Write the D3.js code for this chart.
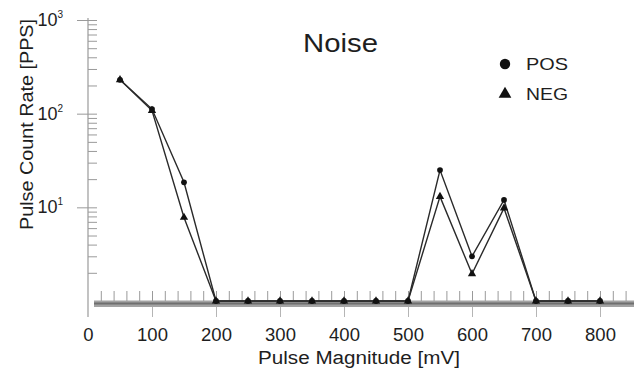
<!DOCTYPE html>
<html>
<head>
<meta charset="utf-8">
<script src="https://cdn.jsdelivr.net/npm/d3@7"></script>
<style>
  html, body { margin: 0; padding: 0; background: #fff; }
  svg { display: block; font-family: "Liberation Sans", Arial, sans-serif; }
</style>
</head>
<body>
<svg id="chart" width="635" height="370"></svg>
<script>
// Pulse magnitudes (mV) at which counts were taken
const magnitudes = [50, 100, 150, 200, 250, 300, 350, 400, 450, 500, 550, 600, 650, 700, 750, 800];
// Count rates in pulses per second; 0 means no pulses counted
const posRates = [230, 112, 18.5, 0, 0, 0, 0, 0, 0, 0, 25, 3.0, 12, 0, 0, 0];
const negRates = [230, 108, 7.8, 0, 0, 0, 0, 0, 0, 0, 13, 1.95, 9.8, 0, 0, 0];
const xTickLabels = [0, 100, 200, 300, 400, 500, 600, 700, 800];
const yDecades = [1, 2, 3];
const seriesNames = ["POS", "NEG"];

const svg = d3.select("#chart");
const ink = "#1e1e1e";
const axisGrey = "#9a9a9a";

const x = d3.scaleLinear().domain([0, 850]).range([88, 632]);
const y = d3.scaleLog().domain([1, 1000]).range([301, 20]);
const yFloor = 1;
const yv = v => y(Math.max(v, yFloor));

// horizontal base band along the floor of the log axis
svg.append("rect")
  .attr("x", 94).attr("y", y(1) - 0.5)
  .attr("width", x(850) - 94 + 2).attr("height", 6.5)
  .attr("fill", "#a3a3a3");
svg.append("line")
  .attr("x1", 94).attr("x2", x(850) + 2)
  .attr("y1", y(1) + 2.5).attr("y2", y(1) + 2.5)
  .attr("stroke", "#6f6f6f").attr("stroke-width", 2);

// x minor ticks above the band
const xMinor = svg.append("g")
  .attr("transform", `translate(0,${y(1)})`)
  .call(d3.axisTop(x).tickValues(d3.range(20, 850, 20)).tickSize(10).tickFormat(""));
xMinor.select(".domain").remove();
xMinor.selectAll("line").attr("stroke", axisGrey).attr("stroke-width", 1);

// x major ticks below the band with labels
const xMajor = svg.append("g")
  .attr("transform", `translate(0,${y(1) + 6})`)
  .call(d3.axisBottom(x).tickValues(xTickLabels).tickSize(10).tickFormat(d3.format("d")));
xMajor.select(".domain").remove();
xMajor.selectAll("line").attr("stroke", "#b5b5b5").attr("stroke-width", 1)
  .attr("opacity", d => d === 0 ? 0 : 1);
xMajor.selectAll("text")
  .attr("y", 34).attr("dy", 0)
  .attr("font-size", 18.5).attr("fill", ink)
  .attr("font-family", "Liberation Sans, Arial, sans-serif");

// y axis: line, minor ticks inside, major ticks crossing
const yMinorVals = [];
for (let e = 0; e < 3; e++) for (let m = 2; m <= 9; m++) yMinorVals.push(m * Math.pow(10, e));
const yIn = svg.append("g")
  .attr("transform", "translate(88,0)")
  .call(d3.axisRight(y).tickValues(yMinorVals.concat(yDecades.map(d => Math.pow(10, d)))).tickSize(9).tickFormat(""));
yIn.select(".domain").remove();
yIn.selectAll("line").attr("stroke", axisGrey);

const yOut = svg.append("g")
  .attr("transform", "translate(88,0)")
  .call(d3.axisLeft(y).tickValues(yDecades.map(d => Math.pow(10, d))).tickSize(11).tickFormat(""));
yOut.select(".domain").remove();
yOut.selectAll("line").attr("stroke", axisGrey);

svg.append("line")
  .attr("x1", 88).attr("x2", 88).attr("y1", 18).attr("y2", 317)
  .attr("stroke", axisGrey).attr("stroke-width", 1.2);

// decade labels with superscript exponents
yDecades.forEach(d => {
  const t = svg.append("text")
    .attr("x", 63).attr("y", y(Math.pow(10, d)) + 6)
    .attr("text-anchor", "end").attr("fill", ink);
  t.append("tspan").attr("font-size", 18).text("10");
  t.append("tspan").attr("font-size", 10).attr("dy", -8).text(d);
});

// series lines
const series = [
  { name: seriesNames[0], values: posRates, symbol: d3.symbolCircle },
  { name: seriesNames[1], values: negRates, symbol: d3.symbolTriangle }
];
const line = d3.line().x((d, i) => x(magnitudes[i])).y(d => yv(d));
series.forEach(s => {
  svg.append("path")
    .attr("d", line(s.values))
    .attr("fill", "none").attr("stroke", "#2a2a2a").attr("stroke-width", 1.4);
});

// markers: triangles first so circles sit on top at the shared floor points
series.slice().reverse().forEach(s => {
  svg.append("g").selectAll("path")
    .data(s.values)
    .join("path")
    .attr("transform", (d, i) => `translate(${x(magnitudes[i])},${yv(d)})`)
    .attr("d", d3.symbol().type(s.symbol).size(s.symbol === d3.symbolCircle ? 26 : 30))
    .attr("fill", "#111");
});

// title
svg.append("text")
  .attr("x", 303).attr("y", 52)
  .attr("font-size", 25).attr("fill", ink)
  .attr("textLength", 75).attr("lengthAdjust", "spacingAndGlyphs")
  .text("Noise");

// legend
const legendRows = [
  { name: seriesNames[0], symbol: d3.symbolCircle, size: 85, cy: 64 },
  { name: seriesNames[1], symbol: d3.symbolTriangle, size: 70, cy: 94 }
];
legendRows.forEach(r => {
  svg.append("path")
    .attr("transform", `translate(505,${r.cy})`)
    .attr("d", d3.symbol().type(r.symbol).size(r.size))
    .attr("fill", "#111");
  svg.append("text")
    .attr("x", 526).attr("y", r.cy + 6)
    .attr("font-size", 17).attr("fill", ink)
    .attr("textLength", 42).attr("lengthAdjust", "spacingAndGlyphs")
    .text(r.name);
});

// axis titles
svg.append("text")
  .attr("x", 258).attr("y", 364)
  .attr("font-size", 18).attr("fill", ink)
  .attr("textLength", 202).attr("lengthAdjust", "spacingAndGlyphs")
  .text("Pulse Magnitude [mV]");

svg.append("text")
  .attr("transform", "translate(33,230) rotate(-90)")
  .attr("font-size", 18).attr("fill", ink)
  .attr("textLength", 211).attr("lengthAdjust", "spacingAndGlyphs")
  .text("Pulse Count Rate [PPS]");
</script>
</body>
</html>
